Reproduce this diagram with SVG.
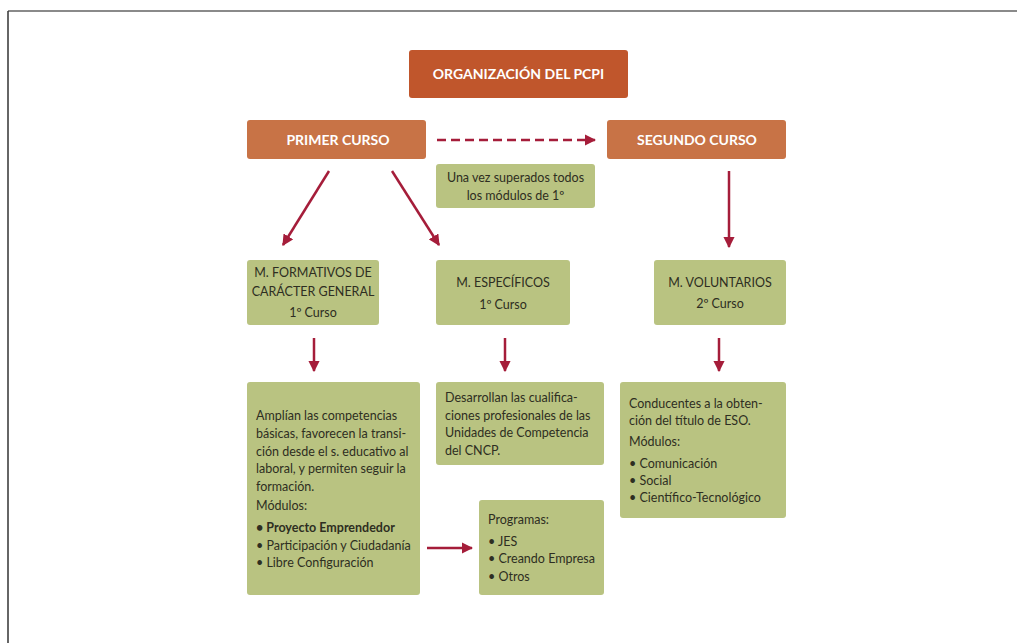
<svg xmlns="http://www.w3.org/2000/svg" width="1017" height="643" viewBox="0 0 1017 643">
  <style>
    .frame-top { stroke: #8a8a8a; stroke-width: 2; }
    .frame-left { stroke: #333333; stroke-width: 1.5; }
    .head { fill: #c0562c; }
    .course { fill: #c87346; }
    .green { fill: #b9c381; }
    .htxt { font-family: Lato, "Open Sans", "Liberation Sans", sans-serif; font-weight: 700; font-size: 14px; fill: #ffffff; text-anchor: middle; }
    .t { font-family: Lato, "Open Sans", "Liberation Sans", sans-serif; font-size: 12.5px; fill: #2e2e22; }
    .c { text-anchor: middle; }
    .b { font-weight: 700; }
    .conn { stroke: #a51d3a; stroke-width: 2.5; fill: none; }
    .dash { stroke-dasharray: 9 5; }
  </style>
  <defs>
    <marker id="arrow" viewBox="0 0 10 10" refX="9" refY="5" markerWidth="4.5" markerHeight="4.5" markerUnits="strokeWidth" orient="auto">
      <path d="M0,0 L10,5 L0,10 Z" fill="#a51d3a"/>
    </marker>
  </defs>

  <rect width="1017" height="643" fill="#ffffff"/>
  <line class="frame-top" x1="8" y1="11" x2="1017" y2="11"/>
  <line class="frame-left" x1="8" y1="11" x2="8" y2="643"/>

  <g id="connectors">
    <line class="conn dash" x1="437" y1="140" x2="595" y2="140" marker-end="url(#arrow)"/>
    <line class="conn" x1="329" y1="171" x2="283" y2="245" marker-end="url(#arrow)"/>
    <line class="conn" x1="392" y1="171" x2="439" y2="245" marker-end="url(#arrow)"/>
    <line class="conn" x1="729" y1="171" x2="729" y2="247" marker-end="url(#arrow)"/>
    <line class="conn" x1="314" y1="338" x2="314" y2="371" marker-end="url(#arrow)"/>
    <line class="conn" x1="505" y1="338" x2="505" y2="371" marker-end="url(#arrow)"/>
    <line class="conn" x1="719" y1="338" x2="719" y2="371" marker-end="url(#arrow)"/>
    <line class="conn" x1="427" y1="548" x2="472" y2="548" marker-end="url(#arrow)"/>
  </g>

  <g id="organizacion">
    <rect class="head" x="409" y="50" width="219" height="48" rx="3"/>
    <text class="htxt" x="518.5" y="79">ORGANIZACIÓN DEL PCPI</text>
  </g>

  <g id="primer-curso">
    <rect class="course" x="247" y="120" width="179" height="39" rx="3"/>
    <text class="htxt" x="338" y="145">PRIMER CURSO</text>
  </g>

  <g id="segundo-curso">
    <rect class="course" x="607" y="120" width="179" height="39" rx="3"/>
    <text class="htxt" x="697" y="145">SEGUNDO CURSO</text>
  </g>

  <g id="condicion">
    <rect class="green" x="436" y="164" width="159" height="44" rx="3"/>
    <text class="t c" x="515.5" y="182">Una vez superados todos</text>
    <text class="t c" x="515.5" y="200">los módulos de 1º</text>
  </g>

  <g id="m-formativos">
    <rect class="green" x="247" y="260" width="132" height="65" rx="3"/>
    <text class="t c" x="313" y="277">M. FORMATIVOS DE</text>
    <text class="t c" x="313" y="296">CARÁCTER GENERAL</text>
    <text class="t c" x="313" y="317">1º Curso</text>
  </g>

  <g id="m-especificos">
    <rect class="green" x="436" y="260" width="134" height="65" rx="3"/>
    <text class="t c" x="503" y="287">M. ESPECÍFICOS</text>
    <text class="t c" x="503" y="309">1º Curso</text>
  </g>

  <g id="m-voluntarios">
    <rect class="green" x="654" y="260" width="132" height="65" rx="3"/>
    <text class="t c" x="720" y="287">M. VOLUNTARIOS</text>
    <text class="t c" x="720" y="308">2º Curso</text>
  </g>

  <g id="formativos-detalle">
    <rect class="green" x="247" y="382" width="173" height="213" rx="3"/>
    <text class="t" x="256" y="420">Amplían las competencias</text>
    <text class="t" x="256" y="438">básicas, favorecen la transi-</text>
    <text class="t" x="256" y="456">ción desde el s. educativo al</text>
    <text class="t" x="256" y="473">laboral, y permiten seguir la</text>
    <text class="t" x="256" y="491">formación.</text>
    <text class="t" x="256" y="510">Módulos:</text>
    <text class="t b" x="256" y="532">• Proyecto Emprendedor</text>
    <text class="t" x="256" y="550">• Participación y Ciudadanía</text>
    <text class="t" x="256" y="567">• Libre Configuración</text>
  </g>

  <g id="especificos-detalle">
    <rect class="green" x="436" y="382" width="168" height="83" rx="3"/>
    <text class="t" x="445" y="402">Desarrollan las cualifica-</text>
    <text class="t" x="445" y="420">ciones profesionales de las</text>
    <text class="t" x="445" y="437">Unidades de Competencia</text>
    <text class="t" x="445" y="455">del CNCP.</text>
  </g>

  <g id="voluntarios-detalle">
    <rect class="green" x="620" y="382" width="166" height="136" rx="3"/>
    <text class="t" x="629" y="408">Conducentes a la obten-</text>
    <text class="t" x="629" y="425">ción del título de ESO.</text>
    <text class="t" x="629" y="446">Módulos:</text>
    <text class="t" x="629" y="468">• Comunicación</text>
    <text class="t" x="629" y="485">• Social</text>
    <text class="t" x="629" y="502">• Científico-Tecnológico</text>
  </g>

  <g id="programas">
    <rect class="green" x="479" y="500" width="125" height="95" rx="3"/>
    <text class="t" x="488" y="524">Programas:</text>
    <text class="t" x="488" y="546">• JES</text>
    <text class="t" x="488" y="563">• Creando Empresa</text>
    <text class="t" x="488" y="581">• Otros</text>
  </g>
</svg>
